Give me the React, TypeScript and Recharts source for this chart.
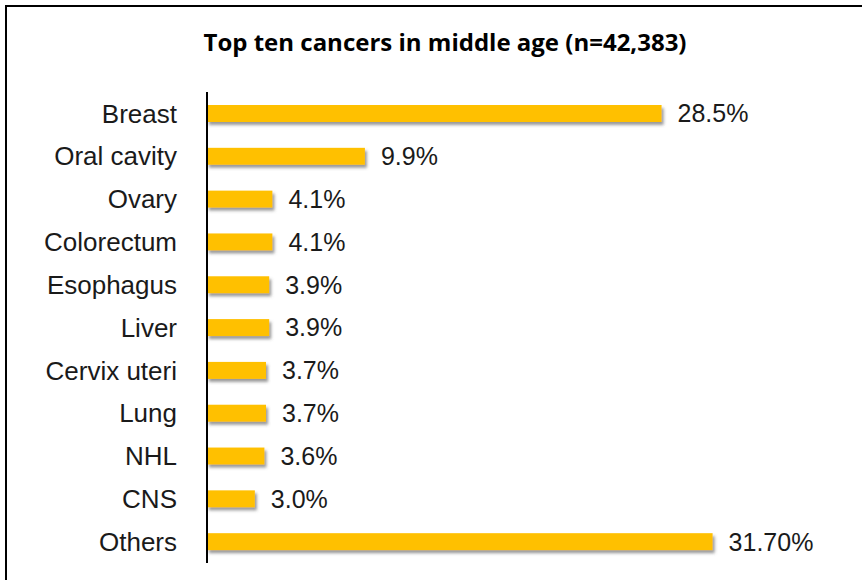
import React from 'react';
import { Bar, BarChart, LabelList, XAxis, YAxis } from 'recharts';

const categories = [
  'Breast',
  'Oral cavity',
  'Ovary',
  'Colorectum',
  'Esophagus',
  'Liver',
  'Cervix uteri',
  'Lung',
  'NHL',
  'CNS',
  'Others',
];
const shares = [28.5, 9.9, 4.1, 4.1, 3.9, 3.9, 3.7, 3.7, 3.6, 3.0, 31.7];
const shareLabels = ['28.5%', '9.9%', '4.1%', '4.1%', '3.9%', '3.9%', '3.7%', '3.7%', '3.6%', '3.0%', '31.70%'];

const chartData = categories.map((name, i) => ({ name, value: shares[i], label: shareLabels[i] }));

const ShadowBar = (props: any) => {
  const { x, y, width, height } = props;
  return <rect x={x} y={y} width={width} height={height} fill="#FFC000" filter="url(#barShadow)" />;
};

export default function App() {
  return (
    <div style={{ position: 'absolute', left: 0, top: 0, width: 862, height: 580, background: '#fff', overflow: 'hidden' }}>
      <svg width={0} height={0} style={{ position: 'absolute' }}>
        <defs>
          <filter id="barShadow" x="-5%" y="-30%" width="115%" height="180%">
            <feDropShadow dx={2} dy={3} stdDeviation={1.6} floodColor="#555" floodOpacity={0.6} />
          </filter>
        </defs>
      </svg>
      <div
        style={{
          position: 'absolute',
          left: 5,
          top: 5,
          width: 900,
          height: 600,
          borderTop: '2px solid #000',
          borderLeft: '2px solid #000',
        }}
      />
      <div
        style={{
          position: 'absolute',
          left: 0,
          top: 25,
          width: 890,
          textAlign: 'center',
          fontFamily: '"Open Sans", sans-serif',
          fontWeight: 700,
          fontSize: 24,
          color: '#000',
        }}
      >
        Top ten cancers in middle age (n=42,383)
      </div>
      <div style={{ position: 'absolute', left: 0, top: 0 }}>
        <BarChart
          width={862}
          height={580}
          data={chartData}
          layout="vertical"
          margin={{ top: 92, right: 17, bottom: 17, left: 0 }}
          barCategoryGap={0}
          style={{ fontFamily: '"Liberation Sans", Arial, sans-serif' }}
        >
          <XAxis type="number" hide domain={[0, 40]} />
          <YAxis
            type="category"
            dataKey="name"
            width={207}
            axisLine={{ stroke: '#000', strokeWidth: 2 }}
            tickLine={false}
            tickSize={0}
            tickMargin={30}
            tick={{ fill: '#1a1a1a', fontSize: 26 }}
            interval={0}
          />
          <Bar dataKey="value" barSize={17} shape={ShadowBar} isAnimationActive={false}>
            <LabelList dataKey="label" position="right" offset={16} fill="#1a1a1a" fontSize={25} />
          </Bar>
        </BarChart>
      </div>
    </div>
  );
}
